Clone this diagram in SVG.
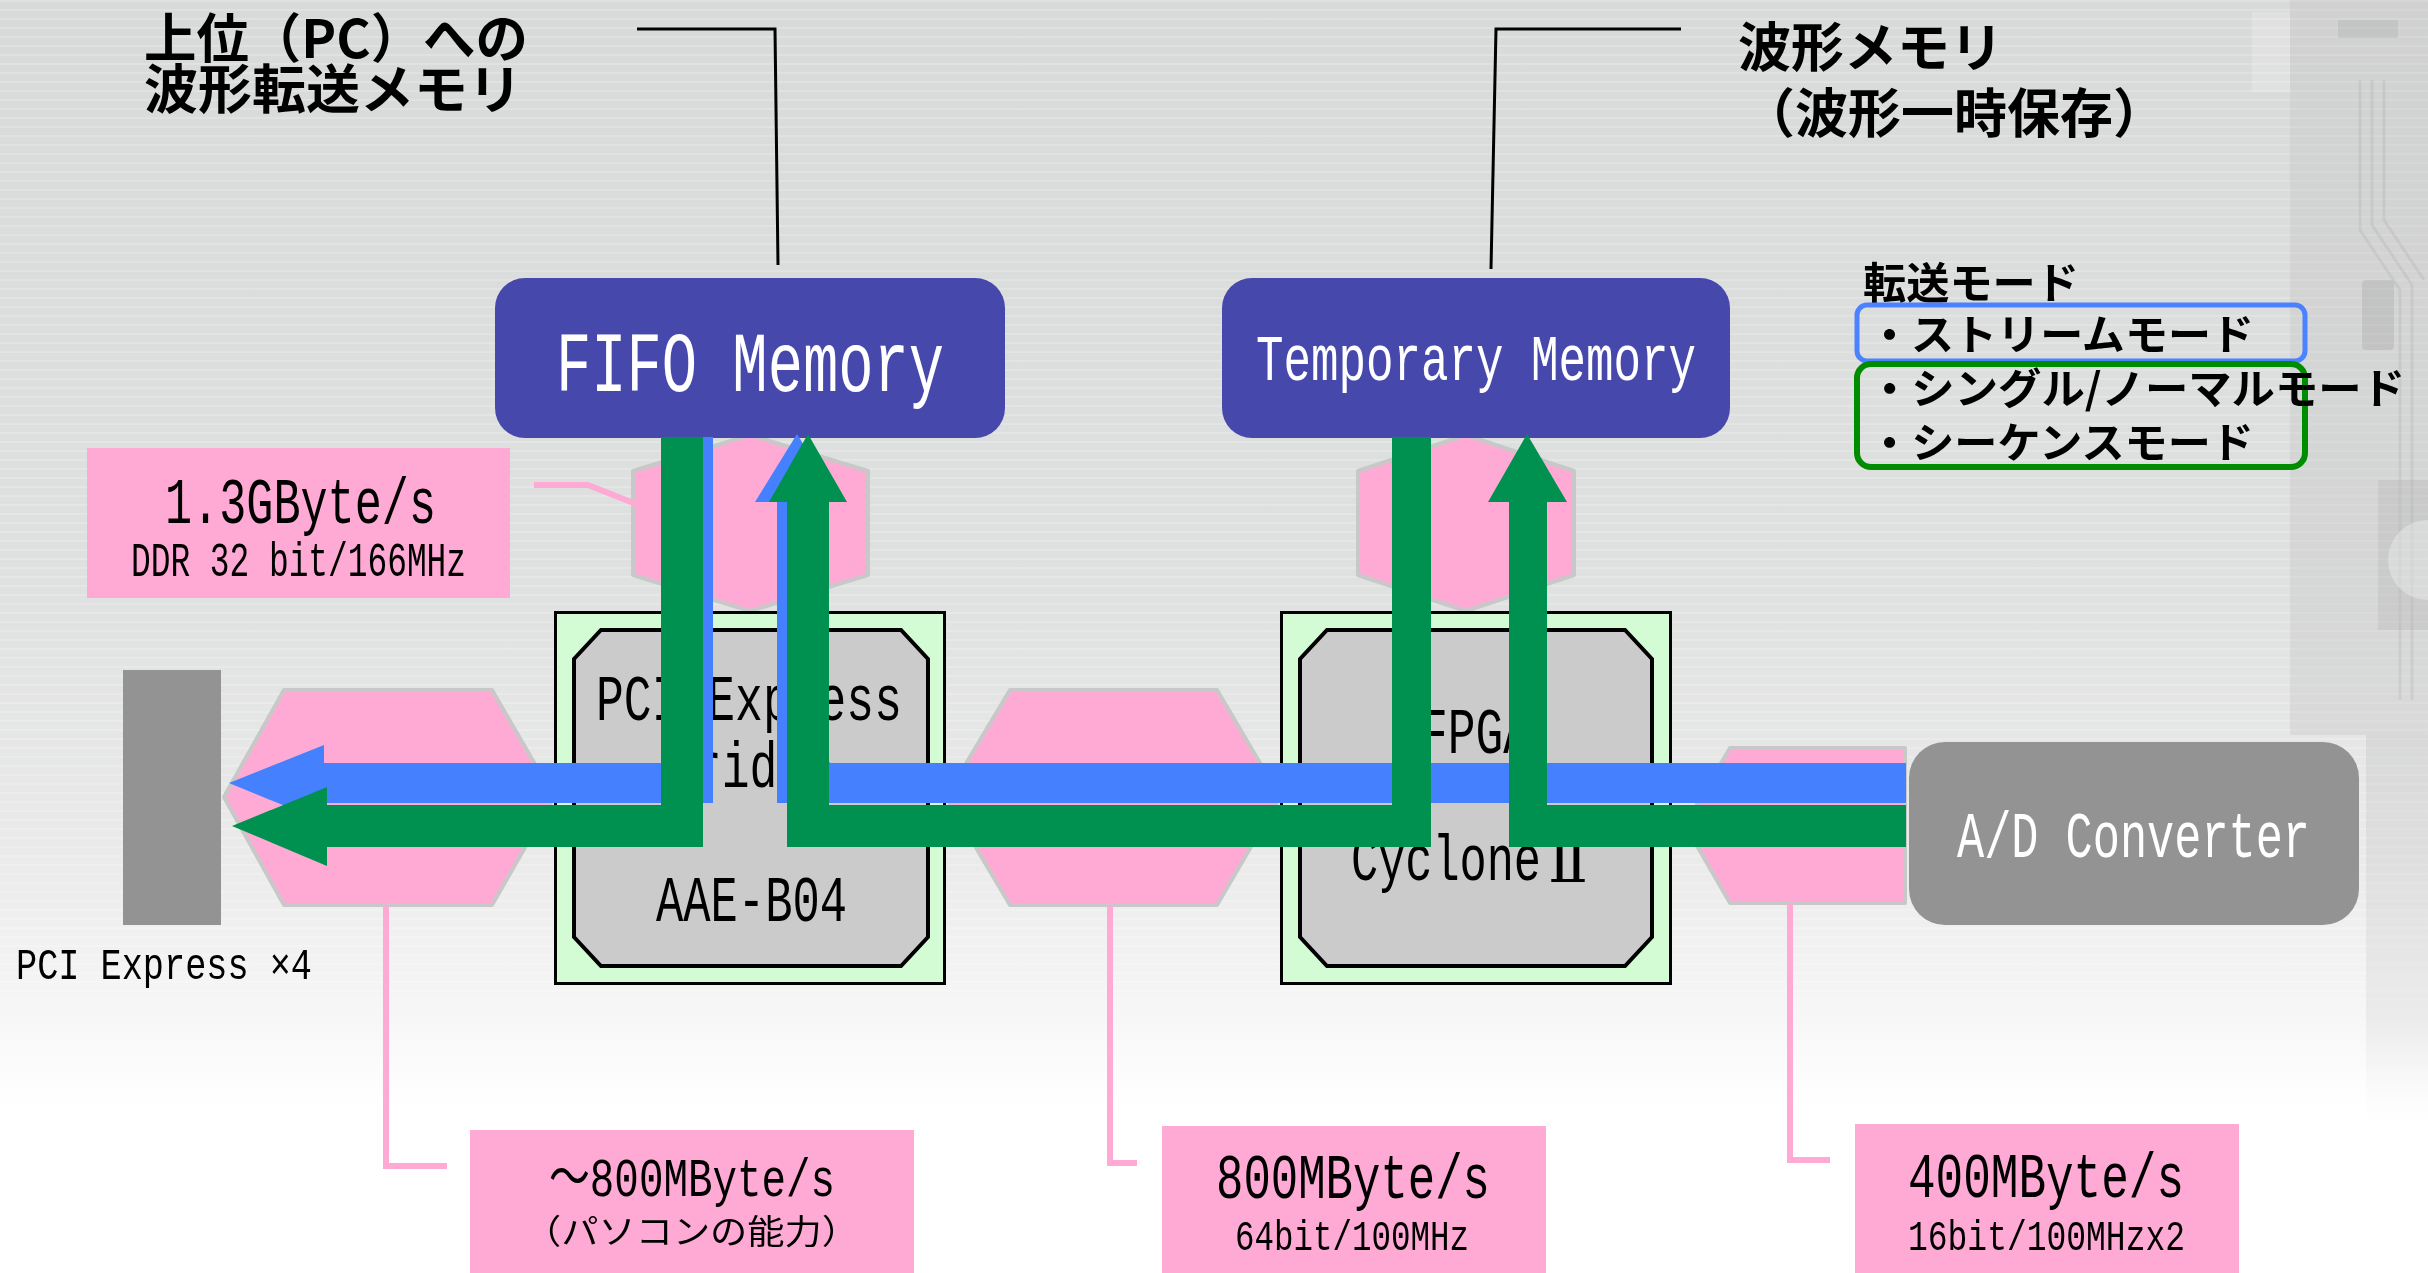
<svg xmlns="http://www.w3.org/2000/svg" width="2428" height="1273" viewBox="0 0 2428 1273">
<defs>
<linearGradient id="bg" x1="0" y1="0" x2="0" y2="1">
<stop offset="0" stop-color="#d8d9d9"/>
<stop offset="0.45" stop-color="#dfe0e0"/>
<stop offset="0.68" stop-color="#ebebeb"/>
<stop offset="0.8" stop-color="#f7f7f7"/>
<stop offset="0.87" stop-color="#ffffff"/>
</linearGradient>
<linearGradient id="pcb" x1="0" y1="0" x2="0" y2="1">
<stop offset="0" stop-color="#c4c4c4" stop-opacity="0.7"/>
<stop offset="0.7" stop-color="#cfcfcf" stop-opacity="0.5"/>
<stop offset="1" stop-color="#ffffff" stop-opacity="0"/>
</linearGradient>
<pattern id="streak" width="40" height="9" patternUnits="userSpaceOnUse">
<rect width="40" height="2" fill="#ffffff" opacity="0.18"/>
</pattern>
<style>
.mono{font-family:"Liberation Mono","Noto Sans CJK JP",monospace;}
.jp{font-family:"Noto Sans CJK JP","Noto Sans",sans-serif;font-weight:bold;}
.jpr{font-family:"Noto Sans CJK JP","Noto Sans",sans-serif;}
.roman{font-family:"DejaVu Serif","Noto Sans CJK JP",serif;}
.white{fill:#ffffff;}
.blk{fill:#000000;}
.mem{fill:#4649ab;}
.pink{fill:#ffaad4;}
.hex{fill:#ffaad4;stroke:#c8c8c8;stroke-width:4;stroke-linejoin:round;}
.chipout{fill:#d4fcd4;stroke:#000;stroke-width:3;}
.chipin{fill:#cbcbcb;stroke:#000;stroke-width:4;}
.gray{fill:#939393;}
.callout{fill:none;stroke:#000;stroke-width:3;}
.plink{fill:none;stroke:#ffaad4;stroke-width:6;}
.green{fill:#00904f;}
.blue{fill:#4580ff;}
</style>
</defs>

<!-- background -->
<rect x="0" y="0" width="2428" height="1273" fill="url(#bg)"/>
<rect x="0" y="0" width="2428" height="1000" fill="url(#streak)"/>
<g id="pcb-bg" opacity="0.55">
<rect x="2290" y="0" width="138" height="735" fill="#c4c4c4" opacity="0.6"/>
<rect x="2366" y="735" width="62" height="415" fill="url(#pcb)"/>
<rect x="2252" y="12" width="38" height="80" fill="#f0f0f0" opacity="0.6"/>
<rect x="2338" y="20" width="60" height="18" fill="#9a9a9a" opacity="0.5"/>
<path d="M2360 80 L2360 230 L2400 290 L2400 700 M2372 80 L2372 225 L2412 285 L2412 700 M2384 80 L2384 220 L2424 280" fill="none" stroke="#a8a8a8" stroke-width="3" opacity="0.6"/>
<rect x="2362" y="280" width="32" height="70" rx="4" fill="#8a8a8a" opacity="0.45"/>
<rect x="2378" y="480" width="50" height="150" fill="#9a9a9a" opacity="0.4"/>
<circle cx="2428" cy="560" r="40" fill="#ffffff" opacity="0.4"/>
</g>

<!-- hexagons -->
<g id="hex-left"><polygon class="hex" points="224,797 284,690 492,690 554,797 492,905 284,905"/></g>
<g id="hex-mid"><polygon class="hex" points="946,797 1010,690 1217,690 1280,797 1217,905 1010,905"/></g>
<g id="hex-fifo"><polygon class="hex" points="750,435 868,471 868,575 750,611 633,575 633,471"/></g>
<g id="hex-temp"><polygon class="hex" points="1466,435 1574,471 1574,575 1466,611 1358,575 1358,471"/></g>
<g id="hex-right"><polygon class="hex" points="1685,825 1730,748 1905,748 1905,903 1730,903"/></g>

<!-- PCI connector -->
<g id="pci-connector">
<rect class="gray" x="123" y="670" width="98" height="255"/>
<text class="mono blk" x="16" y="979" font-size="45" textLength="296" lengthAdjust="spacingAndGlyphs">PCI Express ×4</text>
</g>

<!-- PCI Express Bridge chip -->
<g id="chip-bridge">
<rect class="chipout" x="555.5" y="612.5" width="389" height="371"/>
<polygon class="chipin" points="601,630 901,630 928,659 928,937 901,966 601,966 574,937 574,659"/>
<text class="mono blk" x="596" y="720" font-size="65" textLength="306" lengthAdjust="spacingAndGlyphs">PCI Express</text>
<text class="mono blk" x="666" y="787" font-size="65" textLength="167" lengthAdjust="spacingAndGlyphs">Bridge</text>
<text class="mono blk" x="656" y="921" font-size="65" textLength="191" lengthAdjust="spacingAndGlyphs">AAE-B04</text>
</g>

<!-- FPGA chip -->
<g id="chip-fpga">
<rect class="chipout" x="1281.5" y="612.5" width="389" height="371"/>
<polygon class="chipin" points="1327,630 1625,630 1652,659 1652,937 1625,966 1327,966 1300,937 1300,659"/>
<text class="mono blk" x="1420" y="753" font-size="65" textLength="111" lengthAdjust="spacingAndGlyphs">FPGA</text>
<text class="mono blk" x="1351" y="880" font-size="65" textLength="190" lengthAdjust="spacingAndGlyphs">Cyclone</text>
<text class="roman blk" x="1548" y="882" font-size="58" textLength="40" lengthAdjust="spacingAndGlyphs">Ⅱ</text>
</g>

<!-- A/D converter -->
<g id="ad-converter">
<rect class="gray" x="1909" y="742" width="450" height="183" rx="36"/>
<text class="mono white" x="1957" y="857" font-size="65" textLength="353" lengthAdjust="spacingAndGlyphs">A/D Converter</text>
</g>

<!-- memory boxes -->
<g id="fifo-memory">
<rect class="mem" x="495" y="278" width="510" height="160" rx="30"/>
<text class="mono white" x="556" y="391" font-size="86" textLength="388" lengthAdjust="spacingAndGlyphs">FIFO Memory</text>
</g>
<g id="temporary-memory">
<rect class="mem" x="1222" y="278" width="508" height="160" rx="30"/>
<text class="mono white" x="1256" y="380" font-size="65" textLength="440" lengthAdjust="spacingAndGlyphs">Temporary Memory</text>
</g>

<!-- titles -->
<g id="label-pc-memory">
<text class="jp blk" x="144" y="58" font-size="53" textLength="384" lengthAdjust="spacingAndGlyphs">上位（PC）への</text>
<text class="jp blk" x="144" y="109" font-size="53" textLength="378" lengthAdjust="spacingAndGlyphs">波形転送メモリ</text>
</g>
<g id="label-wave-memory">
<text class="jp blk" x="1738" y="67" font-size="53" textLength="265" lengthAdjust="spacingAndGlyphs">波形メモリ</text>
<text class="jp blk" x="1742" y="133" font-size="53" textLength="424" lengthAdjust="spacingAndGlyphs">（波形一時保存）</text>
</g>

<!-- transfer modes -->
<g id="transfer-modes">
<text class="jp blk" x="1863" y="299" font-size="43" textLength="216" lengthAdjust="spacingAndGlyphs">転送モード</text>
<rect x="1857" y="305" width="448" height="56" rx="10" fill="none" stroke="#4a82ff" stroke-width="5"/>
<rect x="1857" y="364" width="448" height="103" rx="14" fill="none" stroke="#008c00" stroke-width="6"/>
<text class="jp blk" x="1868" y="350" font-size="42" textLength="386" lengthAdjust="spacingAndGlyphs">・ストリームモード</text>
<text class="jp blk" x="1868" y="404" font-size="42" textLength="537" lengthAdjust="spacingAndGlyphs">・シングル/ノーマルモード</text>
<text class="jp blk" x="1868" y="458" font-size="42" textLength="386" lengthAdjust="spacingAndGlyphs">・シーケンスモード</text>
</g>

<!-- pink rate boxes -->
<g id="rate-ddr">
<rect class="pink" x="87" y="448" width="423" height="150"/>
<text class="mono blk" x="165" y="523" font-size="65" textLength="271" lengthAdjust="spacingAndGlyphs">1.3GByte/s</text>
<text class="mono blk" x="131" y="576" font-size="48" textLength="335" lengthAdjust="spacingAndGlyphs">DDR 32 bit/166MHz</text>
</g>
<g id="rate-pc">
<rect class="pink" x="470" y="1130" width="444" height="143"/>
<text class="mono blk" x="549" y="1196" font-size="53" textLength="286" lengthAdjust="spacingAndGlyphs">～800MByte/s</text>
<text class="jpr blk" x="524" y="1244" font-size="34" textLength="335" lengthAdjust="spacingAndGlyphs">（パソコンの能力）</text>
</g>
<g id="rate-64bit">
<rect class="pink" x="1162" y="1126" width="384" height="147"/>
<text class="mono blk" x="1216" y="1198" font-size="63" textLength="274" lengthAdjust="spacingAndGlyphs">800MByte/s</text>
<text class="mono blk" x="1235" y="1250" font-size="42" textLength="234" lengthAdjust="spacingAndGlyphs">64bit/100MHz</text>
</g>
<g id="rate-16bit">
<rect class="pink" x="1855" y="1124" width="384" height="149"/>
<text class="mono blk" x="1908" y="1197" font-size="63" textLength="276" lengthAdjust="spacingAndGlyphs">400MByte/s</text>
<text class="mono blk" x="1908" y="1250" font-size="42" textLength="277" lengthAdjust="spacingAndGlyphs">16bit/100MHzx2</text>
</g>

<!-- connectors -->
<g id="connectors">
<polyline class="callout" points="637,29 775,29 778,265"/>
<polyline class="callout" points="1681,29 1496,29 1491,269"/>
<polyline class="plink" stroke-width="5" points="534,485 588,485 636,504"/>
<polyline class="plink" points="386,906 386,1166 447,1166"/>
<polyline class="plink" points="1110,906 1110,1163 1137,1163"/>
<polyline class="plink" points="1790,903 1790,1160 1830,1160"/>
<!-- data flow arrows -->
<polygon class="blue" points="673,437 713,437 713,803 324,803 324,822 229,783 324,745 324,763 673,763"/>
<polygon class="blue" points="1906,763 1906,803 777,803 777,502 755,502 797,434 839,502 817,502 817,763"/>
<polygon class="green" points="661,437 703,437 703,847 327,847 327,866 232,826 327,787 327,805 661,805"/>
<polygon class="green" points="1392,437 1431,437 1431,847 787,847 787,502 769,502 808,434 847,502 829,502 829,805 1392,805"/>
<polygon class="green" points="1906,805 1906,847 1509,847 1509,502 1488,502 1527,434 1567,502 1547,502 1547,805"/>
</g>
</svg>
